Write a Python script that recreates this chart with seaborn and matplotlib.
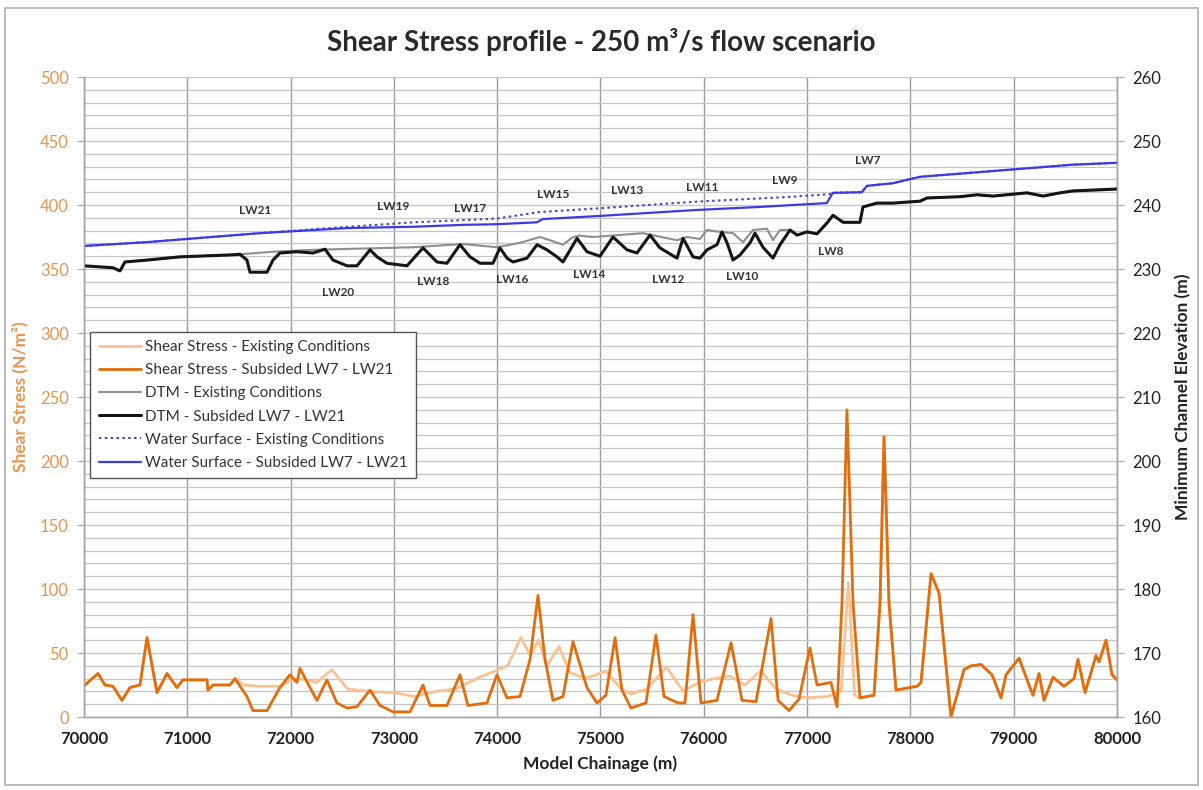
import numpy as np
import pandas as pd
import matplotlib
matplotlib.use("Agg")
import matplotlib.pyplot as plt
import seaborn as sns
from matplotlib.patches import Rectangle
from matplotlib.ticker import MultipleLocator
from matplotlib.lines import Line2D

# ---- Shear stress, subsided LW7 - LW21 (N/m2) ----
shear_sub_x = [70010, 70136, 70203, 70281, 70368, 70445, 70542, 70610, 70707, 70804,
               70900, 70958, 71191, 71200, 71249, 71413, 71462, 71578, 71636, 71772,
               71897, 71994, 72062, 72091, 72188, 72256, 72352, 72449, 72546, 72643,
               72769, 72866, 72991, 73156, 73282, 73350, 73514, 73640, 73717, 73901,
               73998, 74095, 74221, 74318, 74395, 74463, 74540, 74637, 74734, 74869,
               74966, 75053, 75141, 75208, 75295, 75441, 75537, 75615, 75750, 75818,
               75896, 75973, 76128, 76264, 76370, 76506, 76651, 76719, 76825, 76922,
               77028, 77096, 77232, 77290, 77338, 77386, 77445, 77512, 77648, 77706,
               77745, 77793, 77861, 78064, 78103, 78200, 78277, 78393, 78519, 78587,
               78684, 78790, 78877, 78926, 79052, 79139, 79187, 79245, 79294, 79381,
               79487, 79584, 79623, 79691, 79797, 79826, 79894, 79952, 80000]
shear_sub_y = [25, 34, 25, 24, 13, 23, 25, 62, 19, 34,
               23, 29, 29, 21, 25, 25, 30, 16, 5, 5,
               23, 33, 27, 38, 23, 13, 29, 11, 7, 8,
               21, 9, 4, 4, 25, 9, 9, 33, 9, 11,
               33, 15, 16, 45, 95, 45, 13, 16, 59, 23,
               11, 17, 62, 21, 7, 11, 64, 16, 11, 11,
               80, 11, 13, 58, 13, 12, 77, 13, 5, 14,
               54, 25, 27, 8, 89, 240, 89, 15, 17, 89,
               219, 89, 21, 24, 27, 112, 97, 0, 37, 40,
               41, 33, 15, 33, 46, 27, 17, 34, 13, 31,
               24, 30, 45, 19, 48, 43, 60, 33, 29]

# ---- Shear stress, existing conditions (where it departs from subsided) ----
shear_ex_x = [71550, 71700, 71900, 72000, 72100, 72250, 72400, 72550, 72750, 73000,
              73200, 73400, 73600, 73800, 73950, 74100, 74230, 74320, 74400, 74480,
              74600, 74700, 74850, 74960, 75050, 75200, 75300, 75450, 75640, 75800,
              75950, 76100, 76250, 76400, 76550, 76700, 76850, 77000, 77200, 77330,
              77400, 77460]
shear_ex_y = [25, 24, 24, 28, 30, 27, 37, 22, 20, 19,
              16, 20, 22, 30, 35, 40, 62, 48, 60, 40,
              55, 35, 30, 33, 36, 22, 18, 22, 39, 20,
              27, 30, 32, 25, 36, 22, 17, 15, 16, 20,
              105, 17]

# ---- Minimum channel elevation (DTM), subsided LW7 - LW21 (m) ----
dtm_sub_x = [70000, 70281, 70349, 70397, 70610, 70929, 71413, 71510, 71578, 71607,
             71772, 71830, 71897, 72062, 72217, 72333, 72411, 72546, 72643, 72769,
             72837, 72933, 73127, 73282, 73417, 73514, 73640, 73737, 73834, 73959,
             74027, 74095, 74153, 74289, 74386, 74482, 74579, 74637, 74773, 74869,
             74995, 75121, 75257, 75353, 75479, 75576, 75741, 75799, 75896, 75963,
             76031, 76128, 76176, 76225, 76283, 76351, 76448, 76496, 76573, 76670,
             76738, 76835, 76903, 76999, 77096, 77193, 77251, 77348, 77512, 77541,
             77677, 77832, 78093, 78161, 78480, 78645, 78800, 79129, 79284, 79448,
             79574, 80000]
dtm_sub_y = [230.5, 230.2, 229.7, 231.1, 231.4, 231.9, 232.2, 232.3, 231.4, 229.5,
             229.5, 231.4, 232.5, 232.7, 232.5, 233.1, 231.4, 230.5, 230.5, 233.0,
             231.9, 230.9, 230.5, 233.3, 231.1, 230.9, 233.8, 231.9, 230.9, 230.9,
             233.3, 231.7, 231.1, 231.7, 233.8, 233.0, 231.9, 231.1, 234.8, 232.7,
             232.0, 235.0, 233.0, 232.5, 235.3, 233.3, 231.7, 234.8, 231.9, 231.7,
             233.0, 233.8, 235.8, 234.1, 231.4, 232.2, 234.1, 235.6, 233.4, 231.7,
             233.8, 236.1, 235.3, 235.8, 235.5, 237.2, 238.4, 237.3, 237.3, 239.7,
             240.3, 240.3, 240.6, 241.1, 241.3, 241.6, 241.4, 241.9, 241.4, 241.9,
             242.2, 242.5]

# ---- DTM, existing conditions (where it departs from subsided) ----
dtm_ex_x = [71510, 71830, 72217, 72700, 73185, 73670, 74000, 74221, 74414, 74511,
            74637, 74734, 74802, 74928, 75092, 75412, 75741, 75837, 75963, 76031,
            76157, 76283, 76380, 76477, 76612, 76670, 76738, 76835]
dtm_ex_y = [232.3, 232.7, 233.0, 233.2, 233.4, 233.9, 233.4, 234.1, 235.0, 234.5,
            233.8, 235.0, 235.2, 235.0, 235.2, 235.6, 234.5, 235.0, 234.7, 236.1,
            235.8, 235.6, 234.2, 236.1, 236.3, 234.5, 236.1, 236.1]

# ---- Water surface, subsided LW7 - LW21 (m) ----
ws_sub_x = [70000, 70610, 71700, 72550, 73185, 73670, 74000, 74385, 74440, 75000,
            75900, 76540, 77190, 77250, 77530, 77580, 77830, 78090, 79570, 80000]
ws_sub_y = [233.6, 234.2, 235.6, 236.4, 236.6, 236.9, 237.0, 237.3, 237.8, 238.3,
            239.2, 239.7, 240.3, 241.9, 242.0, 243.0, 243.4, 244.4, 246.3, 246.6]

# ---- Water surface, existing conditions (where it departs from subsided) ----
ws_ex_x = [71700, 72300, 73185, 73900, 74000, 74410, 75000, 75900, 76860, 77220]
ws_ex_y = [235.6, 236.3, 237.3, 237.8, 237.9, 238.9, 239.5, 240.5, 241.3, 241.7]

# ---- Longwall panel labels ----
lw_names = ["LW21", "LW19", "LW17", "LW15", "LW13", "LW11", "LW9", "LW7",
            "LW20", "LW18", "LW16", "LW14", "LW12", "LW10", "LW8"]
lw_x = [71655, 72991, 73737, 74540, 75257, 75983, 76786, 77590,
        72459, 73379, 74143, 74889, 75654, 76370, 77232]
lw_y = [239.2, 239.7, 239.5, 241.6, 242.2, 242.7, 243.9, 247.0,
        226.4, 228.1, 228.4, 229.1, 228.4, 228.9, 232.7]


def splice(base_x, base_y, part_x, part_y):
    """Replace the stretch of a base profile covered by a partial profile."""
    bx, by = np.asarray(base_x, float), np.asarray(base_y, float)
    lo, hi = part_x[0], part_x[-1]
    before, after = bx < lo, bx > hi
    x = np.concatenate([bx[before], part_x, bx[after]])
    y = np.concatenate([by[before], part_y, by[after]])
    return pd.DataFrame({"chainage": x, "value": y})


shear_sub = pd.DataFrame({"chainage": shear_sub_x, "value": shear_sub_y})
shear_ex = splice(shear_sub_x, shear_sub_y, shear_ex_x, shear_ex_y)
dtm_sub = pd.DataFrame({"chainage": dtm_sub_x, "value": dtm_sub_y})
dtm_ex = splice(dtm_sub_x, dtm_sub_y, dtm_ex_x, dtm_ex_y)
ws_sub = pd.DataFrame({"chainage": ws_sub_x, "value": ws_sub_y})
ws_ex = splice(ws_sub_x, ws_sub_y, ws_ex_x, ws_ex_y)

sns.set_style("white")
plt.rcParams["font.family"] = ["Lato", "DejaVu Sans"]

ORANGE_DARK = "#E46C0A"
ORANGE_LIGHT = "#F9C293"
AXIS_ORANGE = "#E8944F"
GREY_DTM = "#8E8E8E"
BLUE = "#3B3BE6"
BLUE_DOT = "#4545C8"

fig = plt.figure(figsize=(12.03, 7.90), dpi=100)
ax = fig.add_axes([0.0698, 0.0924, 0.8587, 0.8101])
ax2 = ax.twinx()

# shear stress on the left axis
sns.lineplot(data=shear_ex, x="chainage", y="value", ax=ax, color=ORANGE_LIGHT,
             lw=2.0, sort=False, legend=False)
sns.lineplot(data=shear_sub, x="chainage", y="value", ax=ax, color=ORANGE_DARK,
             lw=2.0, sort=False, legend=False)

# channel elevations on the right axis
sns.lineplot(data=dtm_ex, x="chainage", y="value", ax=ax2, color=GREY_DTM,
             lw=1.5, sort=False, legend=False)
sns.lineplot(data=dtm_sub, x="chainage", y="value", ax=ax2, color="#151515",
             lw=2.2, sort=False, legend=False)
sns.lineplot(data=ws_ex, x="chainage", y="value", ax=ax2, color=BLUE_DOT,
             lw=1.5, ls=(0, (1.2, 1.6)), sort=False, legend=False)
sns.lineplot(data=ws_sub, x="chainage", y="value", ax=ax2, color=BLUE,
             lw=1.6, sort=False, legend=False)

ax.set_xlim(70000, 80000)
ax.set_ylim(0, 500)
ax2.set_ylim(160, 260)

ax.xaxis.set_major_locator(MultipleLocator(1000))
ax.yaxis.set_major_locator(MultipleLocator(50))
ax.yaxis.set_minor_locator(MultipleLocator(10))
ax2.yaxis.set_major_locator(MultipleLocator(10))

ax.grid(axis="y", which="both", color="#C4C4C4", lw=0.9)
ax.grid(axis="x", which="major", color="#9A9A9A", lw=1.0)
ax.set_axisbelow(True)

for a in (ax, ax2):
    for side, sp in a.spines.items():
        sp.set_color("#A6A6A6")
        sp.set_linewidth(1.0)
    a.spines["top"].set_visible(False)

ax.tick_params(axis="y", which="major", direction="out", length=5, color="#A6A6A6",
               labelsize=12, labelcolor=AXIS_ORANGE, pad=6)
ax.tick_params(axis="y", which="minor", length=0)
ax.tick_params(axis="x", direction="out", length=5, color="#A6A6A6", labelsize=12,
               pad=5)
ax2.tick_params(axis="y", direction="out", length=5, color="#A6A6A6", labelsize=12,
                labelcolor="#222222", pad=6)

ax.set_xticks(range(70000, 80001, 1000))
ax.set_xticklabels([str(v) for v in range(70000, 80001, 1000)], fontweight="bold",
                   color="#222222")

ax.set_xlabel("Model Chainage (m)", fontsize=12.5, fontweight="bold", color="#222222",
              labelpad=6)
ax.set_ylabel("Shear Stress (N/m²)", fontsize=12.5, fontweight="bold",
              color=AXIS_ORANGE, labelpad=8)
ax2.set_ylabel("Minimum Channel Elevation (m)", fontsize=12.5, fontweight="bold",
               color="#222222", labelpad=10)

# longwall panel labels
for name, xv, yv in zip(lw_names, lw_x, lw_y):
    ax2.text(xv, yv, name, ha="center", va="center", fontsize=8.5,
             fontweight="bold", color="#333333")

fig.text(0.5, 0.947, "Shear Stress profile - 250 m³/s flow scenario",
         ha="center", va="center", fontsize=20, fontweight="bold", color="#2a2a2a")

handles = [
    Line2D([], [], color=ORANGE_LIGHT, lw=2.0),
    Line2D([], [], color=ORANGE_DARK, lw=2.0),
    Line2D([], [], color=GREY_DTM, lw=1.5),
    Line2D([], [], color="#151515", lw=2.2),
    Line2D([], [], color=BLUE_DOT, lw=1.5, ls=(0, (1.2, 1.6))),
    Line2D([], [], color=BLUE, lw=1.6),
]
labels = [
    "Shear Stress - Existing Conditions",
    "Shear Stress - Subsided LW7 - LW21",
    "DTM - Existing Conditions",
    "DTM - Subsided LW7 - LW21",
    "Water Surface - Existing Conditions",
    "Water Surface - Subsided LW7 - LW21",
]
leg = ax2.legend(handles, labels, loc="upper left", bbox_to_anchor=(0.006, 0.602),
                 fontsize=11, frameon=True, fancybox=False, framealpha=1.0,
                 edgecolor="#555555", handlelength=2.8, handletextpad=0.25,
                 labelspacing=0.6, borderpad=0.55, borderaxespad=0.0)
leg.get_frame().set_linewidth(1.0)
for t in leg.get_texts():
    t.set_color("#333333")

# outer chart border
fig.patches.append(Rectangle((0.004, 0.006), 0.992, 0.984, transform=fig.transFigure,
                             fill=False, edgecolor="#B0B0B0", lw=1.2))

fig.savefig("out.png", dpi=100)
